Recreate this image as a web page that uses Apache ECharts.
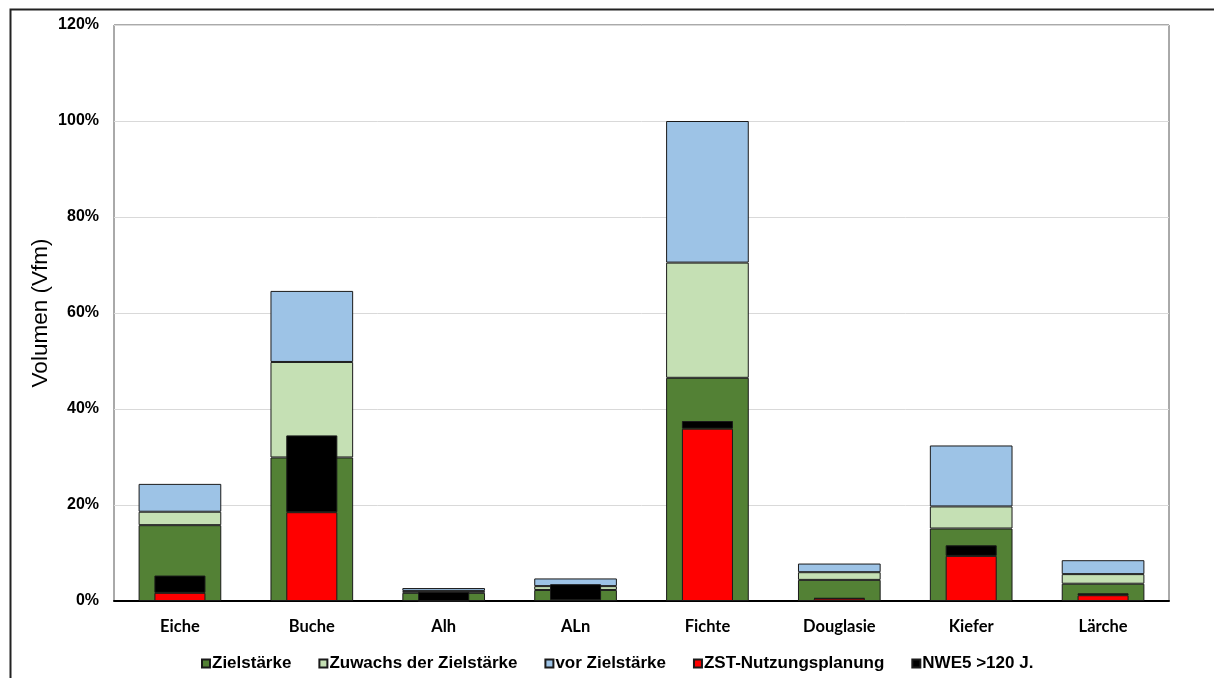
<!DOCTYPE html>
<html>
<head>
<meta charset="utf-8">
<script src="https://cdn.jsdelivr.net/npm/echarts@6/dist/echarts.min.js"></script>
<style>
  html, body { margin: 0; padding: 0; background: #fff; }
  #chart { width: 1214px; height: 678px; }
</style>
</head>
<body>
<div id="chart"></div>
<script>
// Baumarten
const categories = ['Eiche', 'Buche', 'Alh', 'ALn', 'Fichte', 'Douglasie', 'Kiefer', 'Lärche'];

// Vorrat in % (breite gestapelte Säulen)
const zielstaerke = [15.8, 29.9, 1.7, 2.3, 46.5, 4.4, 15.1, 3.6];
const zuwachs     = [2.8, 19.9, 0.4, 0.8, 24.0, 1.6, 4.6, 2.0];
const vorZiel     = [5.8, 14.8, 0.6, 1.6, 29.5, 1.8, 12.7, 2.9];

// Nutzung in % (schmale gestapelte Säulen)
const zstNutzung  = [1.7, 18.5, 0.0, 0.2, 35.9, 0.5, 9.4, 1.2];
const nwe5        = [3.6, 16.0, 1.9, 3.3, 1.6, 0.1, 2.2, 0.4];

// Achsenbeschriftung
const yTicks = [0, 20, 40, 60, 80, 100, 120];

const chart = echarts.init(document.getElementById('chart'), null, { renderer: 'canvas' });

const border = { borderColor: '#1a1a1a', borderWidth: 1 };

function wide(name, data, color) {
  return {
    name, type: 'bar', data, stack: 'vorrat', xAxisIndex: 0,
    barWidth: '62.7%',
    itemStyle: Object.assign({ color }, border),
    emphasis: { disabled: true }
  };
}
function narrow(name, data, color) {
  return {
    name, type: 'bar', data, stack: 'nutzung', xAxisIndex: 1,
    barWidth: '38.7%',
    itemStyle: Object.assign({ color }, border),
    emphasis: { disabled: true }
  };
}

chart.setOption({
  animation: false,
  backgroundColor: '#fff',
  graphic: [{
    type: 'rect', left: 8, top: 7, silent: true,
    shape: { width: 1300, height: 800 },
    style: { fill: 'none', stroke: '#222', lineWidth: 2 }
  }],
  grid: {
    left: 114, top: 25, right: 45, bottom: 77,
    show: true, borderColor: '#555', borderWidth: 1, backgroundColor: 'transparent'
  },
  legend: {
    top: 650, left: 196,
    itemWidth: 8, itemHeight: 8, itemGap: 27,
    icon: 'rect',
    textStyle: { fontFamily: 'Liberation Sans', fontWeight: 'bold', fontSize: 17, color: '#000', padding: [0, 0, 0, -3] },
    data: ['Zielstärke', 'Zuwachs der Zielstärke', 'vor Zielstärke', 'ZST-Nutzungsplanung', 'NWE5 >120 J.']
  },
  xAxis: [{
    type: 'category', data: categories,
    axisLine: { lineStyle: { color: '#000', width: 2 } },
    axisTick: { show: false },
    axisLabel: { fontFamily: 'Lato', fontWeight: 'bold', fontSize: 16.5, color: '#000', margin: 17 }
  }, {
    type: 'category', data: categories, show: false
  }],
  yAxis: {
    type: 'value', min: 0, max: 120, interval: 20,
    name: 'Volumen (Vfm)', nameLocation: 'middle', nameGap: 62,
    nameMoveOverlap: false,
    nameTextStyle: { fontFamily: 'Liberation Sans', fontSize: 22.5, color: '#000' },
    axisLine: { show: false }, axisTick: { show: false },
    splitLine: { lineStyle: { color: '#d9d9d9', width: 1 } },
    axisLabel: {
      fontFamily: 'Liberation Sans', fontWeight: 'bold', fontSize: 16, color: '#000', margin: 15,
      formatter: v => (yTicks.includes(v) ? v + '%' : '')
    }
  },
  series: [
    wide('Zielstärke', zielstaerke, '#538135'),
    wide('Zuwachs der Zielstärke', zuwachs, '#C5E0B4'),
    wide('vor Zielstärke', vorZiel, '#9DC3E6'),
    narrow('ZST-Nutzungsplanung', zstNutzung, '#FF0000'),
    narrow('NWE5 >120 J.', nwe5, '#000000')
  ]
});
</script>
</body>
</html>
